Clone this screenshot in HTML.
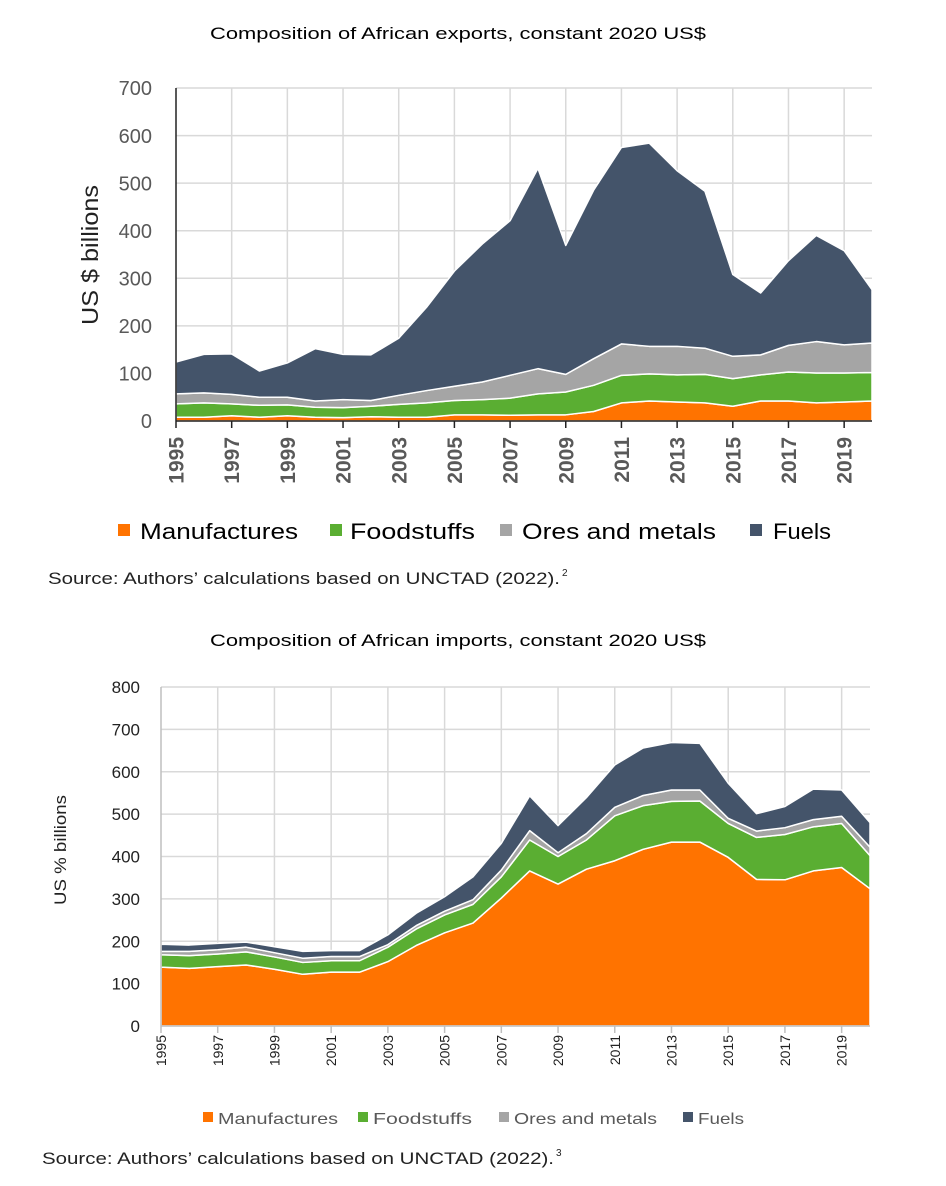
<!DOCTYPE html>
<html><head><meta charset="utf-8"><style>
html,body{margin:0;padding:0;background:#fff}
svg{display:block;font-family:"Liberation Sans",sans-serif}
</style></head><body>
<svg id="s" width="946" height="1186" viewBox="0 0 946 1186">
<text x="458" y="39" text-anchor="middle" font-size="17" textLength="496" lengthAdjust="spacingAndGlyphs">Composition of African exports, constant 2020 US$</text>
<g id="top"></g>
<text transform="translate(98,255) rotate(-90)" text-anchor="middle" font-size="23" fill="#222" textLength="140" lengthAdjust="spacingAndGlyphs">US $ billions</text>
<g>
<rect x="118" y="524" width="12" height="12" fill="#ff7300"/>
<text x="140" y="539" font-size="22" textLength="158" lengthAdjust="spacingAndGlyphs">Manufactures</text>
<rect x="330" y="524" width="12" height="12" fill="#5aae32"/>
<text x="350" y="539" font-size="22" textLength="125" lengthAdjust="spacingAndGlyphs">Foodstuffs</text>
<rect x="500" y="524" width="12" height="12" fill="#a5a5a5"/>
<text x="522" y="539" font-size="22" textLength="194" lengthAdjust="spacingAndGlyphs">Ores and metals</text>
<rect x="750" y="524" width="12" height="12" fill="#44546a"/>
<text x="773" y="539" font-size="22" textLength="58" lengthAdjust="spacingAndGlyphs">Fuels</text>
</g>
<text x="48" y="584" font-size="17" fill="#222" textLength="512" lengthAdjust="spacingAndGlyphs">Source: Authors’ calculations based on UNCTAD (2022).</text>
<text x="562" y="576" font-size="10" fill="#222">2</text>

<text x="458" y="646" text-anchor="middle" font-size="17" textLength="496" lengthAdjust="spacingAndGlyphs">Composition of African imports, constant 2020 US$</text>
<g id="bot"></g>
<text transform="translate(66,850) rotate(-90)" text-anchor="middle" font-size="17" fill="#222" textLength="110" lengthAdjust="spacingAndGlyphs">US % billions</text>
<g fill="#595959">
<rect x="203" y="1112" width="10" height="10" fill="#ff7300"/>
<text x="218" y="1124" font-size="16" textLength="120" lengthAdjust="spacingAndGlyphs">Manufactures</text>
<rect x="358" y="1112" width="10" height="10" fill="#5aae32"/>
<text x="373" y="1124" font-size="16" textLength="99" lengthAdjust="spacingAndGlyphs">Foodstuffs</text>
<rect x="499" y="1112" width="10" height="10" fill="#a5a5a5"/>
<text x="514" y="1124" font-size="16" textLength="143" lengthAdjust="spacingAndGlyphs">Ores and metals</text>
<rect x="683" y="1112" width="10" height="10" fill="#44546a"/>
<text x="698" y="1124" font-size="16" textLength="46" lengthAdjust="spacingAndGlyphs">Fuels</text>
</g>
<text x="42" y="1164" font-size="17" fill="#222" textLength="512" lengthAdjust="spacingAndGlyphs">Source: Authors’ calculations based on UNCTAD (2022).</text>
<text x="556" y="1156" font-size="10" fill="#222">3</text>
</svg>
<script>
const years = [1995,1996,1997,1998,1999,2000,2001,2002,2003,2004,2005,2006,2007,2008,2009,2010,2011,2012,2013,2014,2015,2016,2017,2018,2019,2020];
const seriesNames = ["Manufactures","Foodstuffs","Ores and metals","Fuels"];
const expManufactures = [8,8,11,8,11,8,7,9,8,8,13,13,12,13,13,20,38,42,40,38,31,42,42,38,40,42];
const expFoodstuffs = [28,30,25,25,23,21,21,22,27,30,30,32,36,44,48,55,58,57,57,60,58,55,61,63,61,60];
const expOres = [21,21,20,17,16,13,17,12,19,26,30,37,48,53,37,56,66,58,60,55,47,42,56,66,59,62];
const expFuels = [67,81,85,55,72,110,95,96,120,175,242,290,325,421,271,354,413,427,369,330,172,130,178,223,198,112];
const impManufactures = [139,136,140,144,134,122,127,127,152,190,220,243,302,366,335,370,390,417,434,434,398,346,345,366,374,324];
const impFoodstuffs = [29,30,30,31,29,28,27,27,34,39,42,44,50,73,65,69,106,103,96,97,80,99,107,104,104,78];
const impOres = [8,10,10,11,10,10,10,10,6,8,9,11,16,22,9,15,20,24,27,26,12,15,16,17,17,20];
const impFuels = [17,15,15,12,14,16,14,14,23,29,34,54,63,82,64,85,100,112,112,110,83,41,50,72,62,58];
const expTicks = [0,100,200,300,400,500,600,700];
const impTicks = [0,100,200,300,400,500,600,700,800];

const NS = "http://www.w3.org/2000/svg";
const colors = ["#ff7300","#5aae32","#a5a5a5","#44546a"];
const keys = ["manufactures","foodstuffs","ores","fuels"];
function mk(parent, tag, attrs){const e=document.createElementNS(NS,tag);for(const k in attrs)e.setAttribute(k,attrs[k]);parent.appendChild(e);return e;}

function draw(g, cfg){
  const x = i => cfg.x0 + (cfg.x1-cfg.x0)*(years[i]-years[0])/(years[years.length-1]-years[0]);
  const y = v => cfg.y0 - (cfg.y0-cfg.yTop)*v/cfg.max;
  cfg.ticks.forEach(t=>{
    const l = mk(g,"line",{x1:cfg.x0,x2:cfg.x1,y1:y(t),y2:y(t),stroke:"#d9d9d9","stroke-width":1.5});
    
    
    const tx = mk(g,"text",{x:cfg.tickX,y:y(t)+cfg.tickFs*0.36,"text-anchor":"end","font-size":cfg.tickFs,fill:cfg.tickFill});
    tx.textContent = t;
    
    
  });
  years.forEach((yr,i)=>{
    if(yr%2===1 && i>0){
      const l = mk(g,"line",{x1:x(i),x2:x(i),y1:cfg.y0,y2:cfg.yTop,stroke:"#d9d9d9","stroke-width":1.5});
      
      
    }
  });
  let base = years.map(()=>0);
  cfg.series.forEach((s,k)=>{
    const top = base.map((b,i)=>b+s[i]);
    let d = "M"+years.map((_,i)=>x(i)+","+y(top[i])).join(" L");
    for(let i=years.length-1;i>=0;i--) d += " L"+x(i)+","+y(base[i]);
    d += " Z";
    const p = mk(g,"path",{d:d,fill:colors[k],stroke:"#fff","stroke-width":1.5,"stroke-linejoin":"round"});
    
    
    base = top;
  });
  const ax = mk(g,"line",{x1:cfg.x0,x2:cfg.x0,y1:cfg.y0,y2:cfg.yTop,stroke:cfg.axisColor,"stroke-width":1.5});
  
  
  const bx = mk(g,"line",{x1:cfg.x0,x2:cfg.x1,y1:cfg.y0,y2:cfg.y0,stroke:cfg.axisColor,"stroke-width":1.5});
  
  
  years.forEach((yr,i)=>{
    if(yr%2===1){
      const tk = mk(g,"line",{x1:x(i),x2:x(i),y1:cfg.y0,y2:cfg.y0+7,stroke:cfg.axisColor,"stroke-width":1.5});
      
      
      const tx = mk(g,"text",{transform:"translate("+(x(i)+cfg.xFs*0.36)+","+(cfg.y0+cfg.xOff)+") rotate(-90)","text-anchor":"end","font-size":cfg.xFs,"font-weight":cfg.xBold?"bold":"normal",fill:cfg.tickFill});
      tx.textContent = yr;
      
      
    }
  });
}
draw(document.getElementById("top"),{x0:176,x1:872,y0:421,yTop:88,max:700,ticks:expTicks,tickX:152,tickFs:20,tickFill:"#595959",axisColor:"#222",xFs:21,xOff:16,xBold:true,
  series:[expManufactures,expFoodstuffs,expOres,expFuels]});
draw(document.getElementById("bot"),{x0:161,x1:870,y0:1026,yTop:687,max:800,ticks:impTicks,tickX:140,tickFs:17,tickFill:"#222",axisColor:"#bfbfbf",xFs:14,xOff:9,xBold:false,
  series:[impManufactures,impFoodstuffs,impOres,impFuels]});
</script>
</body></html>
